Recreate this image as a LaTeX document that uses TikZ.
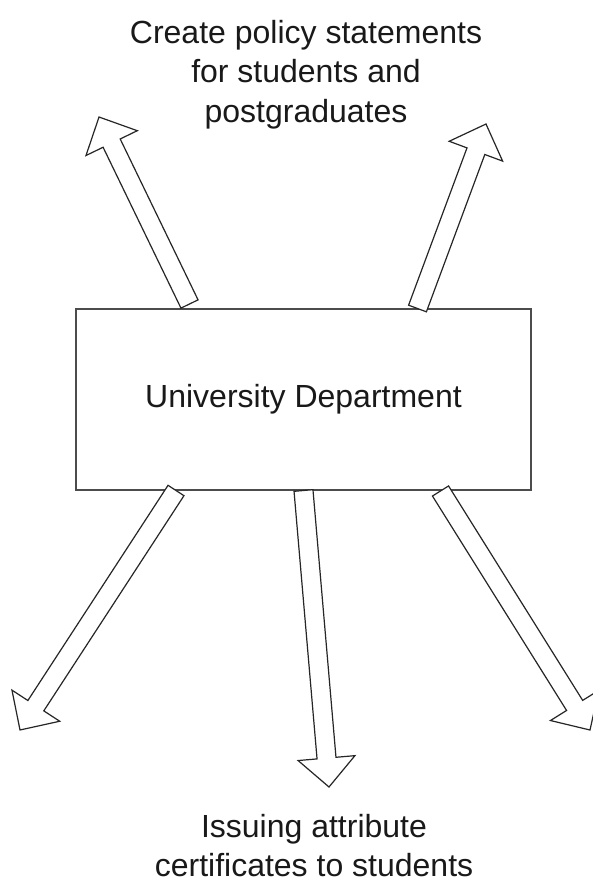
\documentclass[tikz,border=0pt]{standalone}
\usepackage{fontspec}
\setmainfont{Liberation Sans}
\usetikzlibrary{calc}
\newcommand\blockarrow[2]{%
  \pgfpointdiff{\pgfpointanchor{#1}{center}}{\pgfpointanchor{#2}{center}}%
  \pgfgetlastxy{\baDx}{\baDy}%
  \pgfmathsetmacro\baAng{atan2(\baDy,\baDx)}%
  \pgfmathsetmacro\baLen{veclen(\baDx,\baDy)}%
  \pgfmathsetmacro\baNeck{\baLen-29}%
  \draw[blockarr, shift={(#1)}, rotate=\baAng]
    (0,-9.5) -- (\baNeck,-9.5) -- (\baNeck,-28.5) -- (\baLen,0)
    -- (\baNeck,28.5) -- (\baNeck,9.5) -- (0,9.5) -- cycle;}
\begin{document}
\begin{tikzpicture}[x=1pt,y=-1pt,
  lbl/.style={inner sep=0pt, font=\fontsize{32}{39.5}\selectfont, text=black!90, align=center},
  deptbox/.style={draw=black!70, line width=1.8pt, fill=white, inner sep=0pt,
    minimum width=455pt, minimum height=181pt,
    font=\fontsize{32}{39}\selectfont, text=black!90},
  blockarr/.style={draw=black!85, line width=1.2pt, fill=white, line join=miter}]
\useasboundingbox (0,0) rectangle (592,882);
\fill[white] (0,0) rectangle (592,882);

\node[deptbox] (dept) at (303.5,399.5) {University Department};

\node[lbl, anchor=north] (policy) at (306,19.7)
  {Create policy statements\\for students and\\postgraduates};
\node[lbl, anchor=north] (issue) at (314,814)
  {Issuing attribute\\certificates to students};

\coordinate (t1) at (189.5,304);   \coordinate (h1) at (99,117);
\coordinate (t2) at (417.5,308.5); \coordinate (h2) at (486,124);
\coordinate (t3) at (176,490.5);   \coordinate (h3) at (20,730);
\coordinate (t4) at (303.5,490.5); \coordinate (h4) at (329,787);
\coordinate (t5) at (440.5,491);   \coordinate (h5) at (590,730);

\blockarrow{t1}{h1}
\blockarrow{t2}{h2}
\blockarrow{t3}{h3}
\blockarrow{t4}{h4}
\blockarrow{t5}{h5}
\end{tikzpicture}
\end{document}
